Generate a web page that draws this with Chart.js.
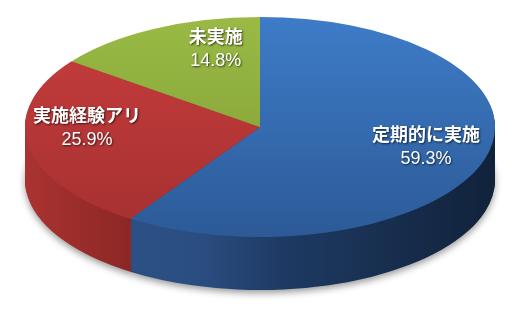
<!DOCTYPE html>
<html><head><meta charset="utf-8">
<script src="https://cdn.jsdelivr.net/npm/chart.js@4.4.0/dist/chart.umd.min.js"></script>
<style>html,body{margin:0;padding:0;background:#fff;overflow:hidden}</style>
</head><body>
<canvas id="c" width="517" height="309"></canvas>
<script>
// ---- data ----
const categories = ['定期的に実施', '実施経験アリ', '未実施'];
const values = [59.3, 25.9, 14.8];
const valueLabels = ['59.3%', '25.9%', '14.8%'];

// ---- styles ----
const topColors = [
  [[0,'#3E7CC8'],[1,'#2C5A97']],
  [[0,'#C83D3D'],[1,'#A53030']],
  [[0,'#9ABA45'],[1,'#7C9A34']]
];
const sideColors = [
  [[0,'#2E5289'],[0.36,'#2B4E82'],[0.55,'#1E3A63'],[1,'#11223A']],
  [[0,'#AA3331'],[0.15,'#962B29'],[0.36,'#7A201F'],[1,'#5E1817']],
  [[0,'#7E9C35'],[1,'#5E7726']]
];
const GEO = {cx:260, cy:127, rx:235, ry:110, depth:53};
const LABEL = [{f:0.72, dx:4, dy:-4}, {f:0.73, dx:-4, dy:-14}, {f:0.8, dx:40, dy:0}];

const pie3d = {
  id: 'pie3d',
  beforeDatasetsDraw(chart) {
    const ctx = chart.ctx;
    const arcs = chart.getDatasetMeta(0).data;
    const ax = arcs[0].x, ay = arcs[0].y, R = arcs[0].outerRadius;
    const sx = GEO.rx / R, sy = GEO.ry / R;
    const setT = (dy) => {
      ctx.setTransform(1,0,0,1,0,0);
      ctx.translate(GEO.cx, GEO.cy + dy);
      ctx.scale(sx, sy);
      ctx.translate(-ax, -ay);
    };
    const grad = (stops, horiz) => {
      const g = horiz ? ctx.createLinearGradient(ax - R, 0, ax + R, 0)
                      : ctx.createLinearGradient(0, ay - R, 0, ay + R);
      stops.forEach(s => g.addColorStop(s[0], s[1]));
      return g;
    };
    const drawArc = (arc, fill) => {
      const orig = arc.options;
      arc.options = Object.assign({}, orig, {backgroundColor: fill, borderWidth: 0});
      arc.draw(ctx);
      arc.options = orig;
    };
    ctx.save();
    // side walls (extrusion)
    for (let d = GEO.depth; d >= 1; d--) {
      setT(d);
      if (d === GEO.depth) {
        ctx.shadowColor = 'rgba(0,0,0,0.4)';
        ctx.shadowBlur = 7;
        ctx.shadowOffsetY = 3;
      } else {
        ctx.shadowColor = 'rgba(0,0,0,0)';
        ctx.shadowBlur = 0;
        ctx.shadowOffsetY = 0;
      }
      arcs.forEach((arc, i) => drawArc(arc, grad(sideColors[i], true)));
    }
    ctx.shadowColor = 'rgba(0,0,0,0)';
    ctx.shadowBlur = 0;
    ctx.shadowOffsetY = 0;
    // top face
    setT(0);
    arcs.forEach((arc, i) => drawArc(arc, grad(topColors[i], false)));
    ctx.restore();
    return false;
  },
  afterDraw(chart) {
    const ctx = chart.ctx;
    const arcs = chart.getDatasetMeta(0).data;
    ctx.save();
    ctx.setTransform(1,0,0,1,0,0);
    ctx.textAlign = 'center';
    ctx.textBaseline = 'middle';
    arcs.forEach((arc, i) => {
      const mid = (arc.startAngle + arc.endAngle) / 2;
      const L = LABEL[i];
      const x = GEO.cx + Math.cos(mid) * L.f * GEO.rx + L.dx;
      const y = GEO.cy + Math.sin(mid) * L.f * GEO.ry + L.dy;
      ctx.shadowColor = 'rgba(0,0,0,0.65)';
      ctx.shadowBlur = 2;
      ctx.shadowOffsetX = 1;
      ctx.shadowOffsetY = 1;
      ctx.fillStyle = '#ffffff';
      ctx.font = 'bold 18px "Noto Sans CJK JP"';
      ctx.fillText(categories[i], x, y - 12);
      ctx.font = '18px "Liberation Sans"';
      ctx.fillText(valueLabels[i], x, y + 13);
    });
    ctx.restore();
  }
};

new Chart(document.getElementById('c'), {
  type: 'pie',
  data: {
    labels: categories,
    datasets: [{
      data: values,
      backgroundColor: topColors.map(c => c[0][1]),
      borderWidth: 0
    }]
  },
  options: {
    responsive: false,
    animation: false,
    layout: {padding: 0},
    plugins: {legend: {display: false}, tooltip: {enabled: false}}
  },
  plugins: [pie3d]
});
</script>
</body></html>
